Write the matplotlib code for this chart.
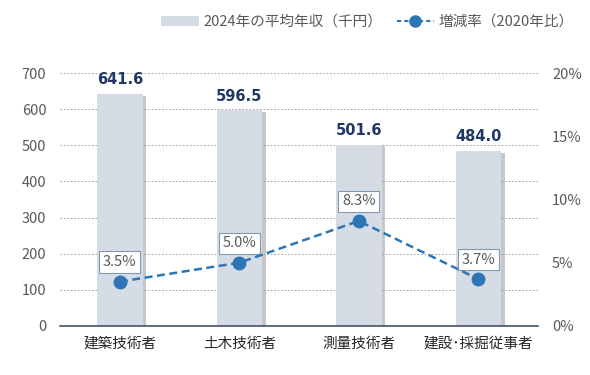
import matplotlib.pyplot as plt
import matplotlib.patheffects as pe
from matplotlib.lines import Line2D
from matplotlib.patches import Patch
from matplotlib.ticker import FuncFormatter

plt.rcParams['font.family'] = ['Noto Sans CJK JP', 'DejaVu Sans']

categories = ['建築技術者', '土木技術者', '測量技術者', '建設･採掘従事者']
income = [641.6, 596.5, 501.6, 484.0]
change = [3.5, 5.0, 8.3, 3.7]

bar_color = '#D6DCE5'
line_color = '#2E75B6'
label_color = '#1F3864'
tick_color = '#595959'

fig = plt.figure(figsize=(5.9, 3.75), dpi=100)
ax = fig.add_axes([0.102, 0.131, 0.810, 0.674])
ax2 = ax.twinx()

x = list(range(len(categories)))
bars = ax.bar(x, income, width=0.38, color=bar_color, zorder=2,
              path_effects=[pe.SimplePatchShadow(offset=(2.5, -1), shadow_rgbFace='#909090', alpha=0.5),
                            pe.Normal()])
for xi, v in zip(x, income):
    ax.annotate(f'{v:.1f}', (xi, v), xytext=(0, 5), textcoords='offset points',
                ha='center', va='bottom', fontsize=10.5, fontweight='bold',
                color=label_color, family='DejaVu Sans')

ax.set_ylim(0, 700)
ax.set_xlim(-0.5, 3.5)
ax.set_yticks(range(0, 701, 100))
ax.grid(axis='y', linestyle=(0, (1.8, 1.8)), color='#A6A6A6', linewidth=0.7, zorder=0)
ax.set_axisbelow(True)
ax.set_xticks(x)
ax.set_xticklabels(categories, fontsize=10.5, color='#262626')
ax.tick_params(axis='x', length=0, pad=8)
ax.tick_params(axis='y', length=0, labelsize=10.5, labelcolor=tick_color, pad=10)
for s in ['top', 'left', 'right']:
    ax.spines[s].set_visible(False)
ax.spines['bottom'].set_color('#44546A')
ax.spines['bottom'].set_linewidth(1.2)

ax2.plot(x, change, linestyle='--', color=line_color, linewidth=1.8,
         marker='o', markersize=9, dashes=(3.2, 1.8), zorder=5)
for xi, v in zip(x, change):
    ax2.annotate(f'{v:.1f}%', (xi, v), xytext=(0, 9), textcoords='offset points',
                 ha='center', va='bottom', fontsize=10.5, color=tick_color,
                 bbox=dict(boxstyle='square,pad=0.25', fc='white', ec='#8497B0', lw=0.8))
ax2.set_ylim(0, 20)
ax2.set_yticks(range(0, 21, 5))
ax2.yaxis.set_major_formatter(FuncFormatter(lambda v, p: f'{v:.0f}%'))
ax2.tick_params(axis='y', length=0, labelsize=10.5, labelcolor=tick_color, pad=10)
for s in ['top', 'left', 'right', 'bottom']:
    ax2.spines[s].set_visible(False)

handles = [Patch(facecolor=bar_color, edgecolor='none'),
           Line2D([0], [0], color=line_color, linestyle='--', marker='o', markersize=8, dashes=(2, 1.5))]
fig.legend(handles, ['2024年の平均年収（千円）', '増減率（2020年比）'],
           loc='upper right', bbox_to_anchor=(0.995, 0.995), ncol=2, frameon=False,
           fontsize=10.5, labelcolor=tick_color, handlelength=2.6, columnspacing=1.0,
           handletextpad=0.3)

fig.savefig('out.png', dpi=100)
